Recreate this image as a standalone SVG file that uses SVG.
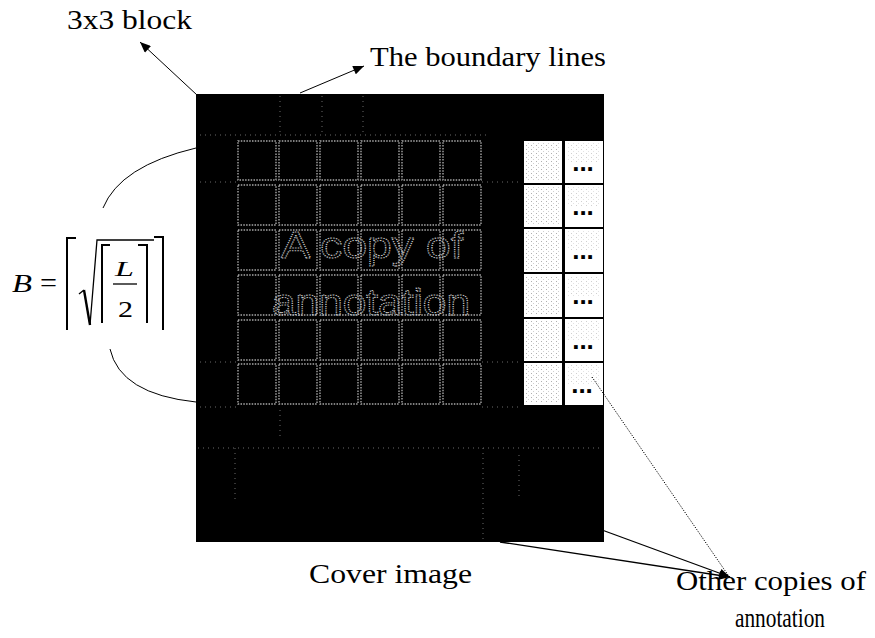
<svg xmlns="http://www.w3.org/2000/svg" width="875" height="638" viewBox="0 0 875 638">
<style>
  .lbl { font-family: "Liberation Serif", "Times New Roman", serif; font-size: 28px; fill: #000; }
  .math { font-family: "Liberation Serif", "Times New Roman", serif; font-style: italic; fill: #000; }
  .mathup { font-family: "Liberation Serif", "Times New Roman", serif; fill: #000; }
  .cell { fill: none; stroke: #a8a8a8; stroke-width: 1.4; stroke-dasharray: 1.5 1.3; }
  .bl { fill: none; stroke: #6a6a6a; stroke-width: 1; stroke-dasharray: 1 4; }
  .hollow { font-family: "Liberation Sans", Arial, sans-serif; font-size: 36px; fill: none; stroke: #c4c4c4; stroke-width: 1.1; stroke-dasharray: 1.2 1; opacity: 0.98; }
  .wcell { fill: #fff; }
  .tex { fill: url(#spk); }
  .dots { font-family: "Liberation Sans", Arial, sans-serif; font-weight: bold; font-size: 26px; fill: #000; text-anchor: middle; }
  .conn { fill: none; stroke: #000; stroke-width: 1.3; }
  .thin { fill: none; stroke: #000; stroke-width: 1; }
  .br { fill: none; stroke: #000; stroke-width: 2; }
</style>
<defs>
  <marker id="ah" viewBox="0 0 12 10" refX="12" refY="5" markerWidth="13" markerHeight="9" markerUnits="userSpaceOnUse" orient="auto">
    <path d="M0,0 L12,5 L0,10 z" fill="#000"/>
  </marker>
  <pattern id="spk" width="5" height="4" patternUnits="userSpaceOnUse">
    <rect x="1" y="1" width="1" height="1" fill="#b0b0b0"/>
    <rect x="3" y="3" width="1" height="1" fill="#d0d0d0"/>
  </pattern>
</defs>

<g id="cover-image">
  <rect x="196" y="94" width="408" height="448" fill="#000"/>
  <g id="boundary-lines">
    <line class="bl" x1="200" y1="135" x2="490" y2="135"/>
    <line class="bl" x1="280" y1="96" x2="280" y2="135"/>
    <line class="bl" x1="322" y1="96" x2="322" y2="135"/>
    <line class="bl" x1="363" y1="96" x2="363" y2="135"/>
    <line class="bl" x1="200" y1="182" x2="238" y2="182"/>
    <line class="bl" x1="482" y1="182" x2="522" y2="182"/>
    <line class="bl" x1="200" y1="362" x2="238" y2="362"/>
    <line class="bl" x1="482" y1="362" x2="522" y2="362"/>
    <line class="bl" x1="200" y1="407" x2="238" y2="407"/>
    <line class="bl" x1="482" y1="407" x2="522" y2="407"/>
    <line class="bl" x1="198" y1="448" x2="602" y2="448"/>
    <line class="bl" x1="235" y1="448" x2="235" y2="500"/>
    <line class="bl" x1="280" y1="410" x2="280" y2="440"/>
    <line class="bl" x1="483" y1="448" x2="483" y2="540"/>
    <line class="bl" x1="519" y1="455" x2="519" y2="500"/>
  </g>
  <g id="annotation-grid">
    <rect class="cell" x="238" y="141" width="38" height="39"/><rect class="cell" x="279" y="141" width="38" height="39"/><rect class="cell" x="320" y="141" width="38" height="39"/><rect class="cell" x="361" y="141" width="38" height="39"/><rect class="cell" x="402" y="141" width="38" height="39"/><rect class="cell" x="443" y="141" width="38" height="39"/>
    <rect class="cell" x="238" y="185" width="38" height="40"/><rect class="cell" x="279" y="185" width="38" height="40"/><rect class="cell" x="320" y="185" width="38" height="40"/><rect class="cell" x="361" y="185" width="38" height="40"/><rect class="cell" x="402" y="185" width="38" height="40"/><rect class="cell" x="443" y="185" width="38" height="40"/>
    <rect class="cell" x="238" y="230" width="38" height="40"/><rect class="cell" x="279" y="230" width="38" height="40"/><rect class="cell" x="320" y="230" width="38" height="40"/><rect class="cell" x="361" y="230" width="38" height="40"/><rect class="cell" x="402" y="230" width="38" height="40"/><rect class="cell" x="443" y="230" width="38" height="40"/>
    <rect class="cell" x="238" y="275" width="38" height="40"/><rect class="cell" x="279" y="275" width="38" height="40"/><rect class="cell" x="320" y="275" width="38" height="40"/><rect class="cell" x="361" y="275" width="38" height="40"/><rect class="cell" x="402" y="275" width="38" height="40"/><rect class="cell" x="443" y="275" width="38" height="40"/>
    <rect class="cell" x="238" y="320" width="38" height="40"/><rect class="cell" x="279" y="320" width="38" height="40"/><rect class="cell" x="320" y="320" width="38" height="40"/><rect class="cell" x="361" y="320" width="38" height="40"/><rect class="cell" x="402" y="320" width="38" height="40"/><rect class="cell" x="443" y="320" width="38" height="40"/>
    <rect class="cell" x="238" y="364" width="38" height="40"/><rect class="cell" x="279" y="364" width="38" height="40"/><rect class="cell" x="320" y="364" width="38" height="40"/><rect class="cell" x="361" y="364" width="38" height="40"/><rect class="cell" x="402" y="364" width="38" height="40"/><rect class="cell" x="443" y="364" width="38" height="40"/>
    <text class="hollow" x="281" y="258" textLength="182" lengthAdjust="spacingAndGlyphs">A copy of</text>
    <text class="hollow" x="272" y="315" textLength="198" lengthAdjust="spacingAndGlyphs">annotation</text>
  </g>
</g>

<g id="annotation-copies">
  <rect class="wcell" x="524" y="141" width="38" height="42"/><rect class="wcell" x="565" y="141" width="38" height="42"/>
  <rect class="wcell" x="524" y="185" width="38" height="42"/><rect class="wcell" x="565" y="185" width="38" height="42"/>
  <rect class="wcell" x="524" y="229" width="38" height="43"/><rect class="wcell" x="565" y="229" width="38" height="43"/>
  <rect class="wcell" x="524" y="274" width="38" height="43"/><rect class="wcell" x="565" y="274" width="38" height="43"/>
  <rect class="wcell" x="524" y="319" width="38" height="42"/><rect class="wcell" x="565" y="319" width="38" height="42"/>
  <rect class="wcell" x="524" y="363" width="38" height="42"/><rect class="wcell" x="565" y="363" width="38" height="42"/>
  <rect class="tex" x="526" y="143" width="34" height="38"/><rect class="tex" x="526" y="187" width="34" height="38"/><rect class="tex" x="526" y="231" width="34" height="39"/><rect class="tex" x="526" y="276" width="34" height="39"/><rect class="tex" x="526" y="321" width="34" height="38"/><rect class="tex" x="526" y="365" width="34" height="38"/>
  <rect class="tex" x="568" y="143" width="32" height="20" opacity="0.6"/><rect class="tex" x="568" y="187" width="32" height="20" opacity="0.6"/><rect class="tex" x="568" y="231" width="32" height="20" opacity="0.6"/><rect class="tex" x="568" y="276" width="32" height="20" opacity="0.6"/><rect class="tex" x="568" y="321" width="32" height="20" opacity="0.6"/><rect class="tex" x="568" y="365" width="32" height="20" opacity="0.6"/>
  <text class="dots" x="583" y="171">...</text>
  <text class="dots" x="583" y="215">...</text>
  <text class="dots" x="583" y="259">...</text>
  <text class="dots" x="583" y="304">...</text>
  <text class="dots" x="583" y="349">...</text>
  <text class="dots" x="582" y="393">...</text>
</g>

<g id="formula">
  <text class="math" x="12" y="292" font-size="26" textLength="20" lengthAdjust="spacingAndGlyphs">B</text>
  <text class="mathup" x="40" y="292" font-size="27" textLength="17" lengthAdjust="spacingAndGlyphs">=</text>
  <path class="br" d="M76,238 H67 V330"/>
  <path class="br" d="M154,237 H163 V330"/>
  <path fill="none" stroke="#000" stroke-width="1.5" d="M79,294 L84,290"/>
  <path fill="none" stroke="#000" stroke-width="2.4" d="M84,290 L90,325"/>
  <path fill="none" stroke="#000" stroke-width="1.3" d="M90,325 L97,240 H154"/>
  <path class="br" d="M110,245 H102 V323"/>
  <path class="br" d="M138,245 H147 V323"/>
  <text class="math" x="115" y="276" font-size="22" textLength="19" lengthAdjust="spacingAndGlyphs">L</text>
  <line x1="113" y1="284" x2="137" y2="284" stroke="#000" stroke-width="1.3"/>
  <text class="mathup" x="118" y="317" font-size="23" textLength="15" lengthAdjust="spacingAndGlyphs">2</text>
</g>

<g id="labels">
  <text id="label-3x3" class="lbl" x="67" y="29" textLength="125" lengthAdjust="spacingAndGlyphs">3x3 block</text>
  <text id="label-boundary" class="lbl" x="370" y="66" textLength="236" lengthAdjust="spacingAndGlyphs">The boundary lines</text>
  <text id="label-cover" class="lbl" x="309" y="583" textLength="163" lengthAdjust="spacingAndGlyphs">Cover image</text>
  <text id="label-other" class="lbl" x="676" y="590" textLength="190" lengthAdjust="spacingAndGlyphs">Other copies of</text>
  <text id="label-annotation" class="lbl" x="735" y="627" textLength="90" lengthAdjust="spacingAndGlyphs">annotation</text>
</g>

<g id="connectors">
  <line class="thin" x1="197" y1="95" x2="140" y2="42" marker-end="url(#ah)"/>
  <line class="thin" x1="300" y1="93" x2="364" y2="66" marker-end="url(#ah)"/>
  <line class="conn" x1="602" y1="530" x2="730" y2="577" marker-end="url(#ah)"/>
  <line class="conn" x1="500" y1="542" x2="730" y2="577" marker-end="url(#ah)"/>
  <line fill="none" stroke="#000" stroke-width="1" stroke-dasharray="1.2 1.4" x1="592" y1="377" x2="728" y2="575"/>
  <path class="thin" d="M196,148 Q120,166 103,208"/>
  <path class="thin" d="M110,349 Q120,394 196,402"/>
</g>
</svg>
